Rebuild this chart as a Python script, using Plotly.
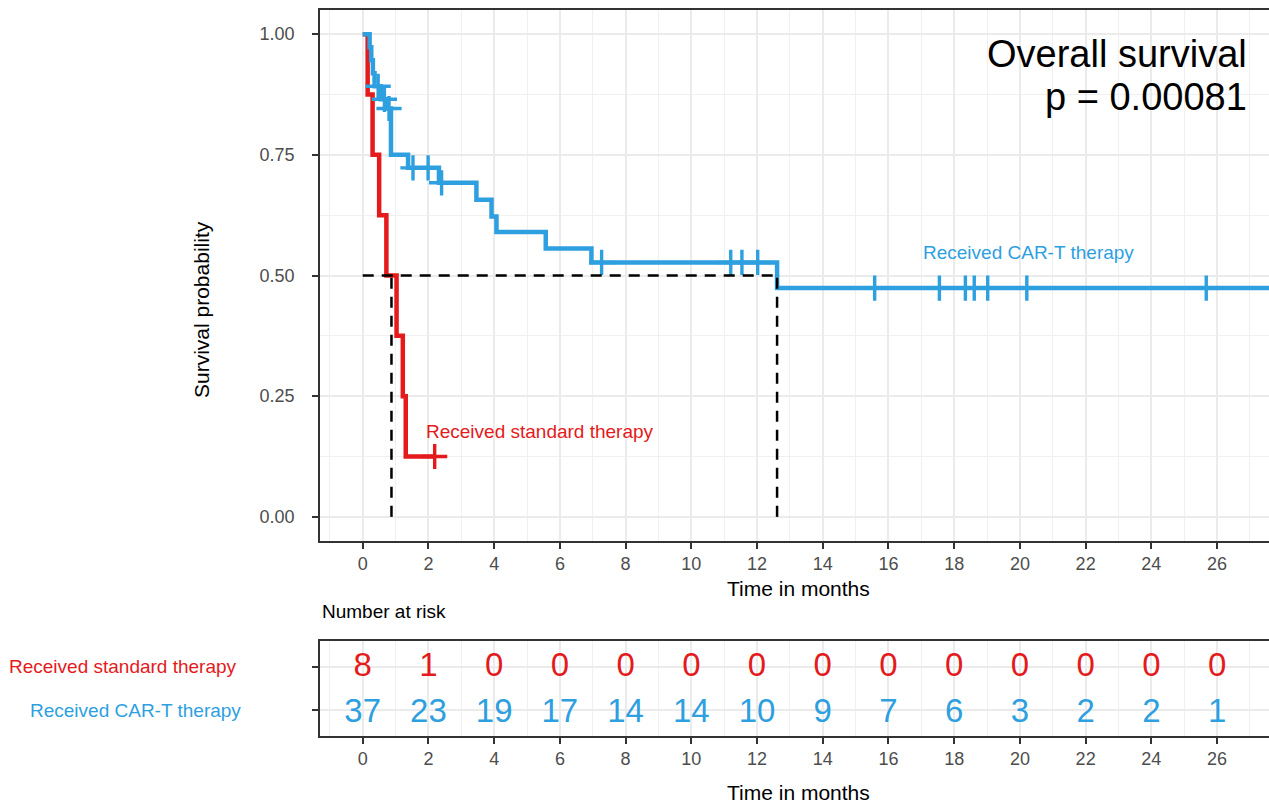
import plotly.graph_objects as go

RED = "#E41A1C"
BLUE = "#2E9FDF"
FONT = "Liberation Sans"

# ---- data ----
std_name = "Received standard therapy"
std_times = [0, 0.15, 0.30, 0.50, 0.72, 1.03, 1.22, 1.31]
std_surv = [1.0, 0.875, 0.75, 0.625, 0.5, 0.375, 0.25, 0.125]
std_end = 2.19
std_censor = [2.19]

cart_name = "Received CAR-T therapy"
cart_times = [0, 0.21, 0.26, 0.31, 0.36, 0.55, 0.74, 0.86, 1.38, 2.32, 3.46, 3.92, 4.07, 5.57, 6.96, 12.61]
cart_surv = [1.0, 0.973, 0.946, 0.919, 0.892, 0.865, 0.846, 0.75, 0.723, 0.692, 0.657, 0.622, 0.59, 0.556, 0.527, 0.474]
cart_end = 28.5
cart_censor = [0.47, 0.66, 0.80, 1.53, 1.99, 2.40, 7.27, 11.2, 11.54, 12.02,
               15.58, 17.55, 18.34, 18.61, 19.02, 20.21, 25.67]

risk_times = [0, 2, 4, 6, 8, 10, 12, 14, 16, 18, 20, 22, 24, 26]
std_risk = [8, 1, 0, 0, 0, 0, 0, 0, 0, 0, 0, 0, 0, 0]
cart_risk = [37, 23, 19, 17, 14, 14, 10, 9, 7, 6, 3, 2, 2, 1]

title_text = "Overall survival"
pval_text = "p = 0.00081"


def step_value(times, surv, t):
    v = surv[0]
    for ti, si in zip(times, surv):
        if ti <= t:
            v = si
    return v


def median_time(times, surv):
    for i, s in enumerate(surv):
        if s <= 0.5:
            if s == 0.5 and i + 1 < len(times):
                return (times[i] + times[i + 1]) / 2
            return times[i]
    return None


fig = go.Figure()

groups = [
    (std_times, std_surv, std_end, std_censor, RED),
    (cart_times, cart_surv, cart_end, cart_censor, BLUE),
]

for times, surv, end, cens, col in groups:
    fig.add_trace(go.Scatter(
        x=times + [end], y=surv + [surv[-1]], mode="lines",
        line=dict(color=col, width=4.5, shape="hv"),
        xaxis="x", yaxis="y", showlegend=False, hoverinfo="skip"))
    fig.add_trace(go.Scatter(
        x=cens, y=[step_value(times, surv, c) for c in cens], mode="markers",
        marker=dict(symbol="cross-thin", size=18, line=dict(color=col, width=3.4)),
        xaxis="x", yaxis="y", showlegend=False, hoverinfo="skip"))

# median lines
meds = [median_time(std_times, std_surv), median_time(cart_times, cart_surv)]
dash_style = dict(color="black", width=2.5, dash="11px,8px")
fig.add_trace(go.Scatter(x=[0, max(meds)], y=[0.5, 0.5], mode="lines", line=dash_style,
                         xaxis="x", yaxis="y", showlegend=False, hoverinfo="skip"))
for m in meds:
    fig.add_trace(go.Scatter(x=[m, m], y=[0, 0.5], mode="lines", line=dash_style,
                             xaxis="x", yaxis="y", showlegend=False, hoverinfo="skip"))

# risk table
fig.add_trace(go.Scatter(x=risk_times, y=[1.97] * len(risk_times), mode="text",
                         text=[str(v) for v in std_risk],
                         textfont=dict(color=RED, size=33, family=FONT),
                         xaxis="x2", yaxis="y2", showlegend=False, hoverinfo="skip"))
fig.add_trace(go.Scatter(x=risk_times, y=[0.91] * len(risk_times), mode="text",
                         text=[str(v) for v in cart_risk],
                         textfont=dict(color=BLUE, size=33, family=FONT),
                         xaxis="x2", yaxis="y2", showlegend=False, hoverinfo="skip"))

GRID = "#EBEBEB"
MINOR = dict(dtick=1, tick0=1, showgrid=True, gridcolor="#F0F0F0", gridwidth=1.3, ticks="")
xcommon = dict(range=[-1.3, 27.58], tickmode="array", tickvals=risk_times,
               showgrid=True, gridcolor=GRID, gridwidth=2, zeroline=False,
               showline=True, linecolor="#333333", linewidth=1.5, mirror=True,
               ticks="outside", ticklen=6, tickwidth=1.5, tickcolor="#333333",
               tickfont=dict(size=18, color="#4D4D4D", family=FONT))

fig.update_layout(
    width=1269, height=805,
    margin=dict(l=320, r=0, t=10, b=69),
    plot_bgcolor="white", paper_bgcolor="white",
    font=dict(family=FONT),
    xaxis=dict(domain=[0, 1], anchor="y", minor=MINOR, **xcommon),
    yaxis=dict(domain=[0.2686, 1], anchor="x", range=[-0.05, 1.05],
               tickmode="array", tickvals=[0, 0.25, 0.5, 0.75, 1.0],
               ticktext=["0.00", "0.25", "0.50", "0.75", "1.00"],
               showgrid=True, gridcolor=GRID, gridwidth=2, zeroline=False,
               minor=dict(tickvals=[0.125, 0.375, 0.625, 0.875], showgrid=True,
                          gridcolor="#F0F0F0", gridwidth=1.3, ticks=""),
               showline=True, linecolor="#333333", linewidth=1.5, mirror=False,
               ticks="outside", ticklen=6, tickwidth=1.5, tickcolor="#333333",
               ticklabelstandoff=14,
               tickfont=dict(size=18, color="#4D4D4D", family=FONT)),
    xaxis2=dict(domain=[0, 1], anchor="y2", minor=MINOR, **xcommon),
    yaxis2=dict(domain=[0, 0.1309], anchor="x2", range=[0.4, 2.6],
                tickmode="array", tickvals=[1, 2], ticktext=["", ""],
                showgrid=True, gridcolor=GRID, gridwidth=2, zeroline=False,
                showline=True, linecolor="#333333", linewidth=1.5, mirror=False,
                ticks="outside", ticklen=6, tickwidth=1.5, tickcolor="#333333"),
)

ann = [
    dict(text=title_text, xref="paper", yref="paper", x=0.9785, y=0.9394,
         xanchor="right", yanchor="middle", showarrow=False,
         font=dict(size=38, color="black", family=FONT)),
    dict(text=pval_text, xref="paper", yref="paper", x=0.9785, y=0.8802,
         xanchor="right", yanchor="middle", showarrow=False,
         font=dict(size=38, color="black", family=FONT)),
    dict(text=std_name, xref="x", yref="y", x=1.86, y=0.176,
         xanchor="left", yanchor="middle", showarrow=False,
         font=dict(size=19, color=RED, family=FONT)),
    dict(text=cart_name, xref="x", yref="y", x=16.99, y=0.547,
         xanchor="left", yanchor="middle", showarrow=False,
         font=dict(size=19, color=BLUE, family=FONT)),
    dict(text="Survival probability", xref="paper", yref="paper", x=-0.1243, y=0.5868,
         xanchor="center", yanchor="middle", textangle=-90, showarrow=False,
         font=dict(size=21, color="black", family=FONT)),
    dict(text="Time in months", xref="paper", yref="paper", x=0.5037, y=0.2025,
         xanchor="center", yanchor="middle", showarrow=False,
         font=dict(size=21, color="black", family=FONT)),
    dict(text="Number at risk", xref="paper", yref="paper", x=0.0, y=0.1708,
         xanchor="left", yanchor="middle", showarrow=False,
         font=dict(size=19, color="black", family=FONT)),
    dict(text=std_name, xref="paper", yref="y2", x=-0.0854, y=2,
         xanchor="right", yanchor="middle", showarrow=False,
         font=dict(size=19, color=RED, family=FONT)),
    dict(text=cart_name, xref="paper", yref="y2", x=-0.0811, y=1,
         xanchor="right", yanchor="middle", showarrow=False,
         font=dict(size=19, color=BLUE, family=FONT)),
    dict(text="Time in months", xref="paper", yref="paper", x=0.5037, y=-0.0775,
         xanchor="center", yanchor="middle", showarrow=False, borderpad=0,
         font=dict(size=21, color="black", family=FONT)),
]
fig.update_layout(annotations=ann)

fig.write_html("out.html", config={"displayModeBar": False},
               post_script="document.body.style.margin='0';document.body.style.overflow='hidden';")
